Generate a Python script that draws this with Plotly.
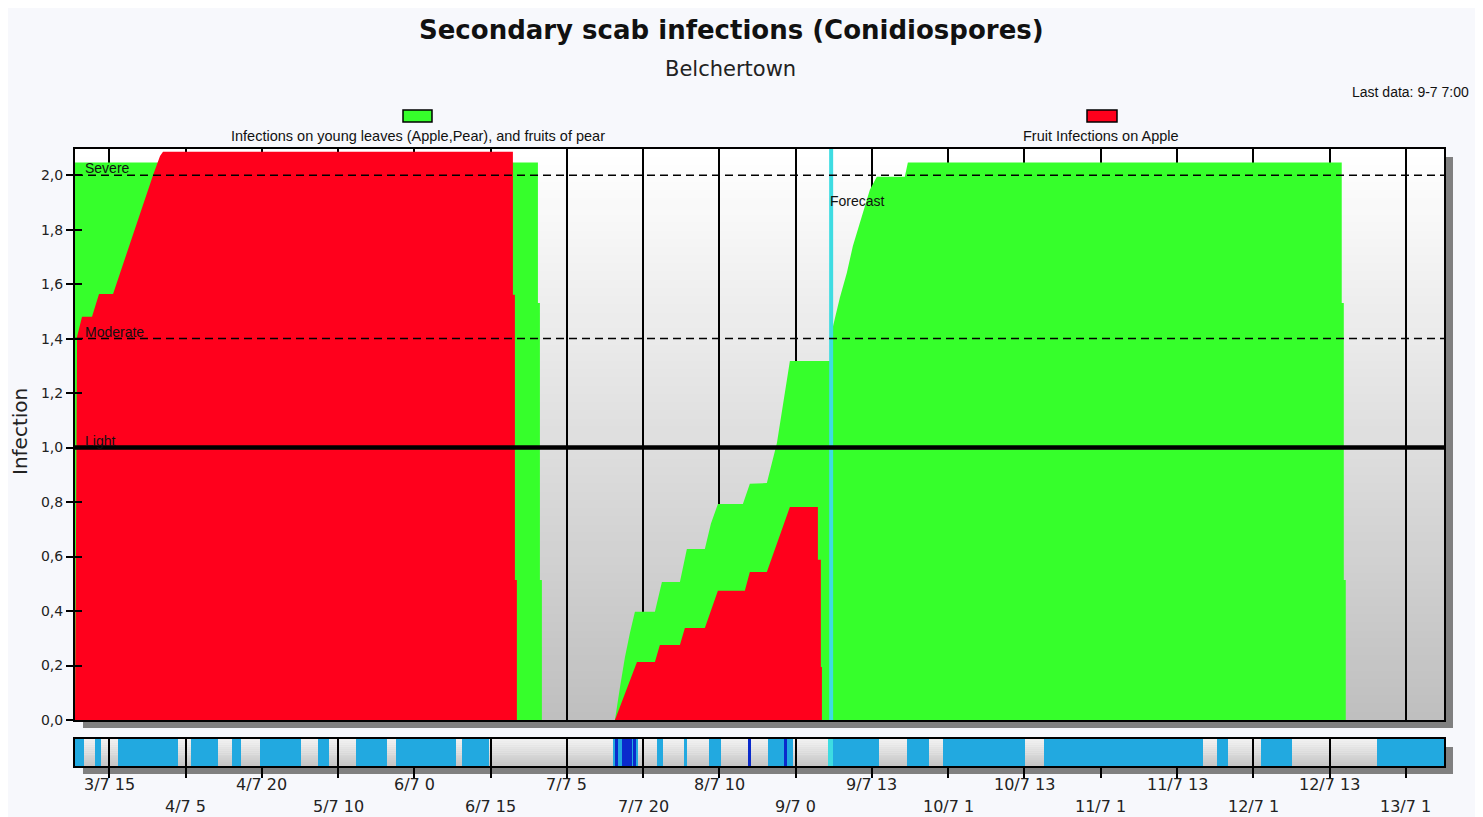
import plotly.graph_objects as go

# ---------------- data ----------------
# x is a time-step coordinate: one unit per labelled tick on the date axis
tick_labels = ["3/7 15", "4/7 5", "4/7 20", "5/7 10", "6/7 0", "6/7 15", "7/7 5",
               "7/7 20", "8/7 10", "9/7 0", "9/7 13", "10/7 1", "10/7 13", "11/7 1",
               "11/7 13", "12/7 1", "12/7 13", "13/7 1"]
tick_pos = list(range(len(tick_labels)))

# Infections on young leaves (Apple, Pear) and fruits of pear
leaf_x = [-0.450, 5.620, 5.620, 5.646, 5.646, 5.672, 5.672, 6.630, 6.696, 6.761, 6.827,
          6.892, 7.154, 7.246, 7.482, 7.573, 7.809, 7.888, 7.980, 8.308, 8.399, 8.622,
          8.754, 8.885, 8.924, 9.461, 9.487, 9.579, 9.671, 9.750, 9.842, 9.907, 9.973,
          10.064, 10.431, 10.471, 16.160, 16.160, 16.187, 16.187, 16.213, 16.213]
leaf_y = [2.046, 2.046, 1.531, 1.531, 0.514, 0.514, 0.0, 0.0, 0.12, 0.23, 0.32,
          0.397, 0.397, 0.507, 0.507, 0.628, 0.628, 0.72, 0.793, 0.793, 0.867, 0.870,
          1.017, 1.245, 1.318, 1.318, 1.443, 1.55, 1.642, 1.74, 1.825, 1.89, 1.946,
          1.994, 1.994, 2.046, 2.046, 1.531, 1.531, 0.514, 0.514, 0.0]

# Fruit infections on Apple
fruit_x = [-0.450, -0.423, -0.358, -0.227, -0.135, 0.049, 0.573, 0.665, 0.704, 5.292,
           5.292, 5.318, 5.318, 5.344, 5.344, 6.630, 6.919, 7.154, 7.219, 7.482, 7.547,
           7.809, 7.980, 8.333, 8.399, 8.622, 8.924, 9.291, 9.291, 9.330, 9.330, 9.344,
           9.344]
fruit_y = [0.0, 1.407, 1.48, 1.48, 1.564, 1.564, 2.0, 2.07, 2.086, 2.086,
           1.561, 1.561, 0.514, 0.514, 0.0, 0.0, 0.213, 0.213, 0.275, 0.275, 0.338,
           0.338, 0.474, 0.474, 0.543, 0.543, 0.782, 0.782, 0.588, 0.588, 0.195, 0.195,
           0.0]

# leaf-wetness strip: wet periods, heavy-rain periods, forecast marker
wet_start = [-0.450, -0.187, 0.114, 1.071, 1.609, 1.976, 2.736, 3.234, 3.759, 4.624,
             6.603, 7.180, 7.534, 7.862, 8.635, 9.487, 10.458, 10.930, 12.254, 14.521,
             15.098, 16.619]
wet_end = [-0.332, -0.109, 0.901, 1.425, 1.727, 2.513, 2.880, 3.641, 4.545, 4.978,
           6.931, 7.259, 7.573, 8.019, 8.963, 10.090, 10.746, 12.004, 14.338, 14.666,
           15.505, 17.501]
heavy_start = [6.642, 6.721, 6.879, 8.386, 8.858]
heavy_end = [6.668, 6.852, 6.905, 8.412, 8.884]
forecast_x = 9.465

threshold_names = ["Severe", "Moderate", "Light"]
threshold_vals = [2.0, 1.4, 1.0]
y_ticks = [0.0, 0.2, 0.4, 0.6, 0.8, 1.0, 1.2, 1.4, 1.6, 1.8, 2.0]

X_RANGE = [-0.450, 17.501]
Y_RANGE = [0, 2.096]

# ---------------- styling ----------------
GREEN = "#36FF2B"
RED = "#FF001C"
BLUE = "#22A9E0"
DARKBLUE = "#0A2ACC"
CYAN = "#3EDCE2"
BG = "#F7F8FC"
AXFONT = "DejaVu Sans"
SMALL = "Liberation Sans"

OFF = 8                      # page margin of the html body
W, H = 1483 - OFF, 817 - OFF
L, T = 75 - OFF, 149 - OFF
R = W - (1444 - OFF)
B = H - (766 - OFF)
PW, PH = W - L - R, H - T - B
MAIN_BOTTOM_PX = 720
STRIP_TOP_PX = 739


def px(xp):
    return (xp - OFF - L) / PW


def py(yp):
    return (H - B - (yp - OFF)) / PH


main_dom = [py(MAIN_BOTTOM_PX), 1.0]
strip_dom = [0.0, py(STRIP_TOP_PX)]

fig = go.Figure()

fig.add_trace(go.Scatter(x=leaf_x, y=leaf_y, mode="lines", fill="tozeroy",
                         fillcolor=GREEN, line=dict(width=0, color=GREEN),
                         name="Infections on young leaves (Apple,Pear), and fruits of pear",
                         hoverinfo="skip"))
fig.add_trace(go.Scatter(x=fruit_x, y=fruit_y, mode="lines", fill="tozeroy",
                         fillcolor=RED, line=dict(width=0, color=RED),
                         name="Fruit Infections on Apple", hoverinfo="skip"))


def bars(starts, ends, color, name):
    return go.Bar(x=[(s + e) / 2 for s, e in zip(starts, ends)],
                  y=[1] * len(starts), width=[e - s for s, e in zip(starts, ends)],
                  base=0, marker=dict(color=color, line=dict(width=0)),
                  xaxis="x2", yaxis="y2", name=name, hoverinfo="skip")


fig.add_trace(bars(wet_start, wet_end, BLUE, "wet"))
fig.add_trace(bars(heavy_start, heavy_end, DARKBLUE, "heavy"))
fig.add_trace(bars([forecast_x - 0.045], [forecast_x + 0.02], CYAN, "forecast"))
# helper trace for the inner y tick marks
fig.add_trace(go.Scatter(x=[None], y=[None], xaxis="x", yaxis="y3", showlegend=False))

shapes = []
# drop shadows
SH = "#808080"
for (x0, y0, x1, y1) in [(1444, 157, 1453, 728), (83, 720, 1453, 728),
                         (1444, 747, 1453, 774), (83, 766, 1453, 774)]:
    shapes.append(dict(type="rect", xref="paper", yref="paper", x0=px(x0), x1=px(x1),
                       y0=py(y1), y1=py(y0), fillcolor=SH, line=dict(width=0),
                       layer="below"))

# vertical gradient backgrounds
N = 70
for i in range(N):
    t = i / (N - 1)
    c = int(round(191 + (255 - 191) * t))
    shapes.append(dict(type="rect", xref="x domain", yref="y domain", x0=0, x1=1,
                       y0=i / N, y1=(i + 1) / N + 0.003,
                       fillcolor=f"rgb({c},{c},{c})", line=dict(width=0), layer="below"))
NS = 14
for i in range(NS):
    t = i / (NS - 1)
    c = int(round(198 + (240 - 198) * t))
    shapes.append(dict(type="rect", xref="x2 domain", yref="y2 domain", x0=0, x1=1,
                       y0=i / NS, y1=(i + 1) / NS + 0.01,
                       fillcolor=f"rgb({c},{c},{c})", line=dict(width=0), layer="below"))

# forecast line
shapes.append(dict(type="line", xref="x", yref="y domain", x0=forecast_x, x1=forecast_x,
                   y0=0, y1=1, line=dict(color=CYAN, width=4), layer="above"))
# threshold lines
for name, v in zip(threshold_names, threshold_vals):
    if name == "Light":
        ln = dict(color="black", width=4.5)
    else:
        ln = dict(color="black", width=1.5, dash="8px,5px")
    shapes.append(dict(type="line", xref="x domain", yref="y", x0=0, x1=1, y0=v, y1=v,
                       line=ln, layer="above"))

# legend boxes
for (x0, x1), col in [((403, 432), GREEN), ((1087, 1117), RED)]:
    shapes.append(dict(type="rect", xref="paper", yref="paper", x0=px(x0), x1=px(x1),
                       y0=py(122), y1=py(110), fillcolor=col,
                       line=dict(color="black", width=1.5)))

annotations = []


def ann(text, xp, yp, size, family=SMALL, color="#111111", xanchor="center",
        yanchor="middle", bold=False, **kw):
    if bold:
        text = f"<b>{text}</b>"
    annotations.append(dict(text=text, xref="paper", yref="paper", x=px(xp), y=py(yp),
                            xanchor=xanchor, yanchor=yanchor, showarrow=False,
                            font=dict(size=size, family=family, color=color), **kw))


ann("Secondary scab infections (Conidiospores)", 731, 30, 26, family=AXFONT,
    color="#111111", bold=True)
ann("Belchertown", 730, 69, 21, family=AXFONT, color="#222222")
ann("Last data: 9-7 7:00", 1410, 92, 14)
ann("Infections on young leaves (Apple,Pear), and fruits of pear", 418, 136, 14.5)
ann("Fruit Infections on Apple", 1101, 136, 14.5)
ann("Infection", 20, 432, 20, family=AXFONT, color="#222222", textangle=-90)

for name, v in zip(threshold_names, threshold_vals):
    annotations.append(dict(text=name, xref="paper", yref="y", x=px(83), y=v,
                            xanchor="left", yanchor="bottom", yshift=-3, showarrow=False,
                            font=dict(size=14, family=SMALL, color="#111111")))
annotations.append(dict(text="Forecast", xref="x", yref="y", x=forecast_x, y=1.906,
                        xanchor="left", yanchor="middle", xshift=-3, showarrow=False,
                        font=dict(size=14, family=SMALL, color="#111111")))

# date labels in two staggered rows under the wetness strip
for i, (pos, lab) in enumerate(zip(tick_pos, tick_labels)):
    row_y = 785 if i % 2 == 0 else 806
    annotations.append(dict(text=lab, xref="x2", yref="paper", x=pos, y=py(row_y),
                            xanchor="center", yanchor="middle", showarrow=False,
                            font=dict(size=16, family=AXFONT, color="#222222")))

fig.update_layout(
    width=W, height=H, autosize=False,
    margin=dict(l=L, r=R, t=T, b=B, pad=0),
    paper_bgcolor=BG, plot_bgcolor="white",
    showlegend=False, separators=", ", bargap=0,
    shapes=shapes, annotations=annotations,
    xaxis=dict(domain=[0, 1], range=X_RANGE, anchor="y", tickvals=tick_pos,
               showticklabels=False, ticks="", showgrid=True, gridcolor="black",
               gridwidth=1.5, showline=True, mirror=True, linecolor="black",
               linewidth=2, zeroline=False, fixedrange=True, automargin=False),
    yaxis=dict(domain=main_dom, range=Y_RANGE, anchor="x", tickvals=y_ticks,
               tickformat=".1f", ticks="outside", ticklen=7, tickwidth=2,
               tickcolor="black", showgrid=False, showline=True, mirror=True,
               linecolor="black", linewidth=2, zeroline=False, automargin=False,
               tickfont=dict(family=AXFONT, size=14, color="#222222")),
    yaxis3=dict(overlaying="y", anchor="x", side="left", range=Y_RANGE,
                tickvals=y_ticks, ticks="inside", ticklen=7, tickwidth=2,
                tickcolor="black", showticklabels=False, showgrid=False,
                showline=False, zeroline=False, automargin=False),
    xaxis2=dict(domain=[0, 1], range=X_RANGE, anchor="y2", tickvals=tick_pos,
                showticklabels=False, ticks="outside", ticklen=10, tickwidth=2,
                tickcolor="black", showgrid=True, gridcolor="black", gridwidth=1.5,
                showline=True, mirror=True, linecolor="black", linewidth=2,
                zeroline=False, automargin=False),
    yaxis2=dict(domain=strip_dom, range=[0, 1], anchor="x2", showticklabels=False,
                ticks="", showgrid=False, showline=True, mirror=True,
                linecolor="black", linewidth=2, zeroline=False, automargin=False),
)

fig.write_html("out.html")
